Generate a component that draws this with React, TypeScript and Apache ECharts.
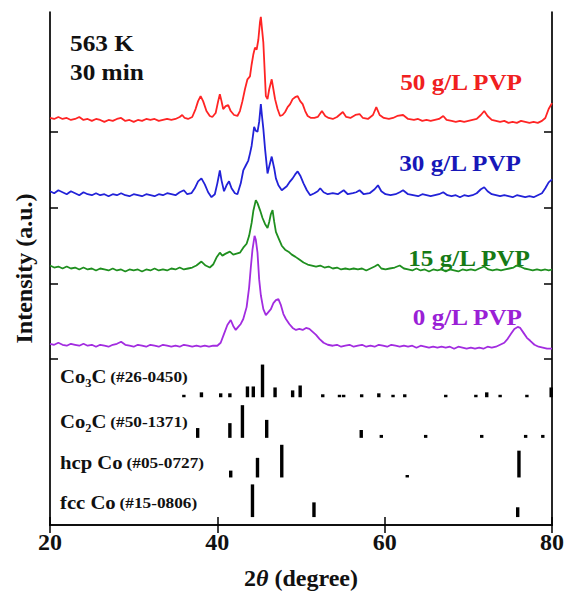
import React, { useEffect, useRef } from 'react';
import * as echarts from 'echarts';

// 2θ range and tick labels
const X_MIN = 20;
const X_MAX = 80;
const X_TICK_STEP = 20;
// offset intensity scale (a.u.), stacked patterns
const Y_MAX = 518;
const Y_TICKS = [168, 244, 320, 397];

const PVP50: [number, number][] = [
  [20, 411], [20.5, 410], [21, 412], [21.5, 410], [22, 411], [22.5, 409], [23, 410], [23.5, 412], [24, 409], [24.5, 410],
  [25, 408], [25.5, 410], [26, 409], [26.5, 407], [27, 409], [27.5, 408], [28, 410], [28.5, 411], [29, 408], [29.5, 409],
  [30, 407], [30.5, 409], [31, 408], [31.5, 410], [32, 409], [32.5, 410], [33, 408], [33.5, 409], [34, 410], [34.5, 409],
  [35, 410], [35.5, 412], [35.8, 414], [36.1, 411], [36.5, 410], [37, 412], [37.4, 420], [37.7, 428], [38.0, 433], [38.3, 428],
  [38.7, 418], [39.1, 413], [39.4, 412], [39.8, 416], [40.1, 428], [40.3, 435], [40.5, 428], [40.7, 420], [41.0, 423], [41.3, 424],
  [41.6, 418], [42.0, 414], [42.4, 413], [42.7, 418], [43.0, 428], [43.3, 440], [43.6, 450], [43.9, 453], [44.1, 465], [44.3, 475],
  [44.5, 482], [44.7, 480], [44.9, 490], [45.1, 508], [45.2, 513], [45.35, 500], [45.5, 487], [45.65, 460], [45.8, 433], [46.0, 430],
  [46.2, 440], [46.5, 450], [46.7, 440], [46.9, 430], [47.2, 420], [47.5, 413], [47.8, 414], [48.1, 417], [48.4, 422], [48.7, 425],
  [49.0, 430], [49.3, 432], [49.6, 433], [49.9, 428], [50.2, 425], [50.5, 418], [50.8, 413], [51.2, 411], [51.6, 411], [52.0, 412],
  [52.5, 418], [52.9, 413], [53.3, 411], [53.8, 410], [54.3, 412], [55.0, 417], [55.4, 412], [55.9, 411], [56.5, 414], [57.0, 415],
  [57.4, 411], [58.0, 410], [58.6, 414], [59.0, 422], [59.4, 414], [59.9, 411], [60.5, 410], [61.0, 411], [61.5, 413], [62.2, 414],
  [62.8, 410], [63.5, 409], [64.0, 410], [64.5, 408], [65.0, 409], [65.5, 408], [66.0, 409], [66.5, 410], [67.0, 413], [67.4, 409],
  [68.0, 408], [68.5, 407], [69.0, 408], [69.5, 407], [70.0, 408], [70.5, 409], [71.0, 410], [71.5, 414], [71.9, 418], [72.3, 413],
  [72.8, 409], [73.3, 408], [73.8, 407], [74.3, 408], [74.8, 406], [75.3, 407], [75.8, 406], [76.3, 408], [76.8, 407], [77.3, 406],
  [77.8, 407], [78.3, 406], [78.8, 408], [79.2, 411], [79.6, 420], [80, 426],
];

const PVP30: [number, number][] = [
  [20, 337], [20.5, 335], [21, 338], [21.5, 336], [22, 334], [22.5, 337], [23, 335], [23.5, 333], [24, 336], [24.5, 334],
  [25, 333], [25.5, 335], [26, 333], [26.5, 334], [27, 332], [27.5, 334], [28, 333], [28.5, 335], [29, 333], [29.5, 332],
  [30, 334], [30.5, 333], [31, 332], [31.5, 334], [32, 333], [32.5, 332], [33, 334], [33.5, 333], [34, 335], [34.5, 334],
  [35, 333], [35.5, 336], [36.0, 338], [36.4, 334], [36.9, 335], [37.3, 340], [37.7, 347], [38.1, 350], [38.5, 344], [38.9, 336],
  [39.3, 331], [39.7, 334], [40.0, 345], [40.3, 358], [40.5, 348], [40.8, 337], [41.1, 343], [41.4, 347], [41.7, 340], [42.1, 335],
  [42.4, 334], [42.8, 345], [43.1, 358], [43.4, 363], [43.7, 368], [43.9, 375], [44.1, 383], [44.4, 402], [44.6, 398], [44.8, 397],
  [45.0, 407], [45.2, 425], [45.35, 412], [45.5, 400], [45.7, 380], [46.0, 355], [46.2, 362], [46.5, 372], [46.8, 360], [47.0, 350],
  [47.3, 343], [47.7, 338], [48.0, 340], [48.3, 342], [48.7, 347], [49.0, 350], [49.3, 354], [49.6, 357], [49.9, 353], [50.3, 345],
  [50.7, 338], [51.1, 333], [51.6, 335], [52.0, 337], [52.3, 340], [52.7, 336], [53.2, 334], [53.8, 335], [54.4, 334], [55.1, 338],
  [55.6, 334], [56.2, 335], [56.6, 336], [57.0, 338], [57.5, 334], [58.2, 335], [58.8, 339], [59.2, 343], [59.6, 337], [60.1, 334],
  [60.7, 333], [61.3, 334], [61.8, 336], [62.2, 338], [62.8, 334], [63.4, 333], [64.0, 332], [64.5, 334], [65.0, 333], [65.5, 332],
  [66.0, 333], [66.5, 334], [67.0, 336], [67.5, 333], [68.0, 332], [68.5, 333], [69.0, 331], [69.5, 333], [70.0, 332], [70.5, 333],
  [71.0, 335], [71.5, 339], [71.9, 341], [72.3, 337], [72.8, 334], [73.3, 333], [73.8, 332], [74.3, 333], [74.8, 332], [75.3, 331],
  [75.8, 333], [76.3, 332], [76.8, 331], [77.3, 332], [77.8, 331], [78.3, 333], [78.8, 335], [79.2, 340], [79.6, 346], [80, 349],
];

const PVP15: [number, number][] = [
  [20, 262], [20.5, 260], [21, 261], [21.5, 259], [22, 261], [22.5, 259], [23, 260], [23.5, 258], [24, 260], [24.5, 258],
  [25, 259], [25.5, 257], [26, 259], [26.5, 258], [27, 257], [27.5, 259], [28, 257], [28.5, 258], [29, 256], [29.5, 258],
  [30, 257], [30.5, 258], [31, 256], [31.5, 258], [32, 257], [32.5, 259], [33, 257], [33.5, 258], [34, 257], [34.5, 259],
  [35, 258], [35.5, 260], [36, 258], [36.5, 259], [37, 260], [37.5, 262], [38.1, 266], [38.6, 262], [39.1, 260], [39.5, 263],
  [39.9, 270], [40.3, 275], [40.6, 272], [41.0, 274], [41.5, 276], [41.9, 273], [42.3, 274], [42.7, 275], [43.1, 280], [43.5, 284],
  [43.8, 292], [44.1, 305], [44.3, 317], [44.6, 328], [44.8, 325], [45.1, 318], [45.4, 310], [45.7, 304], [46.0, 300], [46.2, 306],
  [46.4, 314], [46.6, 318], [46.8, 306], [47.0, 296], [47.3, 290], [47.7, 282], [48.1, 278], [48.5, 276], [48.9, 273], [49.3, 271],
  [49.8, 268], [50.3, 265], [50.8, 263], [51.3, 262], [51.8, 261], [52.3, 262], [52.8, 260], [53.3, 261], [53.8, 259], [54.3, 260],
  [54.8, 258], [55.3, 259], [55.8, 258], [56.3, 259], [56.8, 258], [57.3, 259], [57.8, 257], [58.3, 259], [58.8, 261], [59.2, 263],
  [59.6, 259], [60.1, 258], [60.6, 259], [61.2, 260], [61.8, 262], [62.3, 259], [62.8, 258], [63.3, 257], [63.8, 259], [64.3, 257],
  [64.8, 258], [65.3, 256], [65.8, 258], [66.3, 257], [66.8, 258], [67.3, 256], [67.8, 258], [68.3, 257], [68.8, 256], [69.3, 258],
  [69.8, 257], [70.3, 258], [70.8, 257], [71.3, 259], [71.9, 261], [72.4, 258], [72.9, 257], [73.4, 258], [73.9, 257], [74.4, 258],
  [74.9, 259], [75.4, 260], [75.8, 262], [76.2, 261], [76.7, 259], [77.2, 258], [77.7, 257], [78.2, 258], [78.7, 257], [79.2, 258],
  [79.6, 257], [80, 258],
];

const PVP0: [number, number][] = [
  [20, 183], [20.5, 182], [21, 184], [21.5, 182], [22, 181], [22.5, 183], [23, 182], [23.5, 181], [24, 183], [24.5, 181],
  [25, 182], [25.5, 180], [26, 182], [26.5, 181], [27, 180], [27.5, 182], [28, 183], [28.5, 185], [29, 182], [29.5, 181],
  [30, 180], [30.5, 182], [31, 181], [31.5, 180], [32, 182], [32.5, 181], [33, 180], [33.5, 182], [34, 181], [34.5, 180],
  [35, 181], [35.5, 180], [36, 182], [36.5, 181], [37, 180], [37.5, 181], [38, 180], [38.5, 181], [39, 180], [39.5, 181],
  [40, 181], [40.4, 184], [40.8, 193], [41.2, 202], [41.6, 207], [41.9, 201], [42.2, 197], [42.5, 200], [42.8, 203], [43.1, 208],
  [43.5, 220], [43.8, 240], [44.0, 260], [44.2, 278], [44.45, 292], [44.6, 288], [44.8, 275], [45.0, 248], [45.2, 232], [45.5, 218],
  [45.8, 212], [46.1, 215], [46.4, 218], [46.7, 224], [47.0, 227], [47.3, 228], [47.6, 222], [47.9, 213], [48.2, 208], [48.6, 203],
  [49.0, 199], [49.4, 197], [49.8, 198], [50.2, 197], [50.6, 199], [51.0, 198], [51.4, 195], [51.8, 192], [52.2, 188], [52.7, 184],
  [53.2, 182], [53.8, 181], [54.3, 182], [54.8, 180], [55.3, 181], [55.8, 182], [56.3, 180], [56.8, 181], [57.3, 182], [57.8, 180],
  [58.3, 181], [58.8, 180], [59.3, 182], [59.8, 181], [60.3, 180], [60.8, 182], [61.3, 181], [61.8, 180], [62.3, 181], [62.8, 180],
  [63.3, 181], [63.8, 179], [64.3, 181], [64.8, 180], [65.3, 179], [65.8, 180], [66.3, 179], [66.8, 180], [67.3, 179], [67.8, 180],
  [68.3, 178], [68.8, 180], [69.3, 179], [69.8, 178], [70.3, 179], [70.8, 178], [71.3, 179], [71.8, 178], [72.3, 180], [72.8, 179],
  [73.3, 180], [73.8, 182], [74.3, 184], [74.7, 188], [75.1, 193], [75.5, 198], [75.9, 200], [76.2, 199], [76.6, 194], [77.0, 189],
  [77.4, 186], [77.9, 182], [78.4, 180], [78.9, 179], [79.4, 178], [80, 178],
];

// reference patterns: [2θ, relative intensity %]
const CO3C_REF: [number, number][] = [
  [36.0, 6], [38.1, 15], [40.4, 12], [41.5, 12], [43.6, 33], [44.3, 33], [45.4, 100], [46.9, 30], [49.0, 21], [49.9, 36],
  [52.6, 9], [54.6, 6], [55.1, 6], [57.25, 9], [59.3, 12], [61.0, 6], [62.4, 9], [67.3, 6], [70.9, 6], [72.2, 15],
  [73.8, 6], [77.0, 6], [79.9, 30],
];
const CO2C_REF: [number, number][] = [
  [37.65, 30], [41.5, 45], [43.0, 100], [45.9, 55], [57.2, 24], [59.6, 9], [64.9, 9], [71.6, 9], [76.85, 9], [78.9, 9],
];
const HCP_REF: [number, number][] = [[41.6, 21], [44.8, 60], [47.7, 100], [62.7, 5], [76.05, 82]];
const FCC_REF: [number, number][] = [[44.2, 100], [51.55, 45], [75.9, 30]];

const FONT = "'Liberation Serif', 'Times New Roman', serif";

function stickSeries(data: [number, number][], base: number) {
  return {
    type: 'custom',
    xAxisIndex: 0,
    yAxisIndex: 0,
    data,
    clip: false,
    renderItem: (_p: any, api: any) => {
      const x = api.value(0);
      const h = Math.max(api.value(1) * 0.33, 2.5);
      const p0 = api.coord([x, base]);
      const p1 = api.coord([x, base + h]);
      return {
        type: 'rect',
        shape: { x: p0[0] - 1.7, y: p1[1], width: 3.4, height: p0[1] - p1[1] },
        style: { fill: '#000' },
      };
    },
  };
}

export default function App() {
  const ref = useRef<HTMLDivElement>(null);
  useEffect(() => {
    const chart = echarts.init(ref.current!, null, { renderer: 'svg' });
    const axisLine = { show: true, lineStyle: { color: '#000', width: 1.7 } };
    const lbl = (text: string, x: number, y: number, color: string) => ({
      type: 'text',
      x,
      y,
      scaleX: 1.05,
      style: {
        text,
        fill: color,
        font: `bold 24px ${FONT}`,
        textAlign: 'right',
        textVerticalAlign: 'middle',
      },
    });
    const refLbl = (name: string, card: string, y: number) => ({
      type: 'text',
      x: 60,
      y,
      scaleX: 1.15,
      style: {
        text: `{a|${name}} {b|${card}}`,
        textVerticalAlign: 'middle',
        rich: {
          a: { font: `bold 18px ${FONT}`, fill: '#111' },
          b: { font: `bold 15px ${FONT}`, fill: '#111' },
        },
      },
    });
    chart.setOption({
      animation: false,
      backgroundColor: '#fff',
      grid: { left: 50, right: 15, top: 12, bottom: 65 },
      xAxis: [
        {
          type: 'value',
          min: X_MIN,
          max: X_MAX,
          interval: X_TICK_STEP,
          position: 'bottom',
          axisLine,
          axisTick: { inside: true, length: 8, lineStyle: { color: '#000', width: 1.5 } },
          axisLabel: {
            color: '#111',
            fontFamily: FONT,
            fontWeight: 'bold',
            fontSize: 24,
            margin: 5,
          },
          splitLine: { show: false },
          name: '{n|2}{t|θ}{n| (degree)}',
          nameLocation: 'middle',
          nameGap: 41,
          nameTextStyle: {
            rich: {
              n: { fontFamily: FONT, fontWeight: 'bold', fontSize: 24, color: '#111' },
              t: { fontFamily: FONT, fontWeight: 'bold', fontStyle: 'italic', fontSize: 24, color: '#111' },
            },
          },
        },
        {
          type: 'value',
          min: X_MIN,
          max: X_MAX,
          interval: X_TICK_STEP,
          position: 'top',
          axisLine,
          axisTick: { inside: true, length: 8, lineStyle: { color: '#000', width: 1.5 } },
          axisLabel: { show: false },
          splitLine: { show: false },
        },
      ],
      yAxis: [
        {
          type: 'value',
          min: 0,
          max: Y_MAX,
          position: 'left',
          axisLine,
          axisTick: { show: true, inside: true, length: 8, customValues: Y_TICKS, lineStyle: { color: '#000', width: 1.5 } },
          axisLabel: { show: false },
          splitLine: { show: false },
          name: 'Intensity (a.u.)',
          nameLocation: 'middle',
          nameGap: 14,
          nameTextStyle: { fontFamily: FONT, fontWeight: 'bold', fontSize: 24, color: '#111' },
        },
        {
          type: 'value',
          min: 0,
          max: Y_MAX,
          position: 'right',
          axisLine,
          axisTick: { show: true, inside: true, length: 8, customValues: Y_TICKS, lineStyle: { color: '#000', width: 1.5 } },
          axisLabel: { show: false },
          splitLine: { show: false },
        },
      ],
      series: [
        { type: 'line', data: PVP50, showSymbol: false, lineStyle: { color: '#ff2424', width: 1.8 } },
        { type: 'line', data: PVP30, showSymbol: false, lineStyle: { color: '#2222d8', width: 1.8 } },
        { type: 'line', data: PVP15, showSymbol: false, lineStyle: { color: '#1f8f1f', width: 1.8 } },
        { type: 'line', data: PVP0, showSymbol: false, lineStyle: { color: '#a22ce0', width: 1.8 } },
        stickSeries(CO3C_REF, 129),
        stickSeries(CO2C_REF, 88),
        stickSeries(HCP_REF, 48),
        stickSeries(FCC_REF, 8),
      ],
      graphic: [
        { type: 'text', x: 70, y: 43, scaleX: 1.1, style: { text: '563 K', fill: '#111', font: `bold 23px ${FONT}`, textVerticalAlign: 'middle' } },
        { type: 'text', x: 70, y: 72, scaleX: 1.1, style: { text: '30 min', fill: '#111', font: `bold 23px ${FONT}`, textVerticalAlign: 'middle' } },
        lbl('50 g/L PVP', 522, 82, '#f02020'),
        lbl('30 g/L PVP', 521, 163, '#1717b8'),
        lbl('15 g/L PVP', 530, 258, '#167a16'),
        lbl('0 g/L PVP', 522, 317, '#9a20d6'),
        refLbl('Co₃C', '(#26-0450)', 377),
        refLbl('Co₂C', '(#50-1371)', 422),
        refLbl('hcp Co', '(#05-0727)', 463),
        refLbl('fcc Co', '(#15-0806)', 503),
      ],
    });
    return () => chart.dispose();
  }, []);
  return (
    <div
      ref={ref}
      style={{ position: 'absolute', left: 0, top: 0, width: 567, height: 595, background: '#fff' }}
    />
  );
}
